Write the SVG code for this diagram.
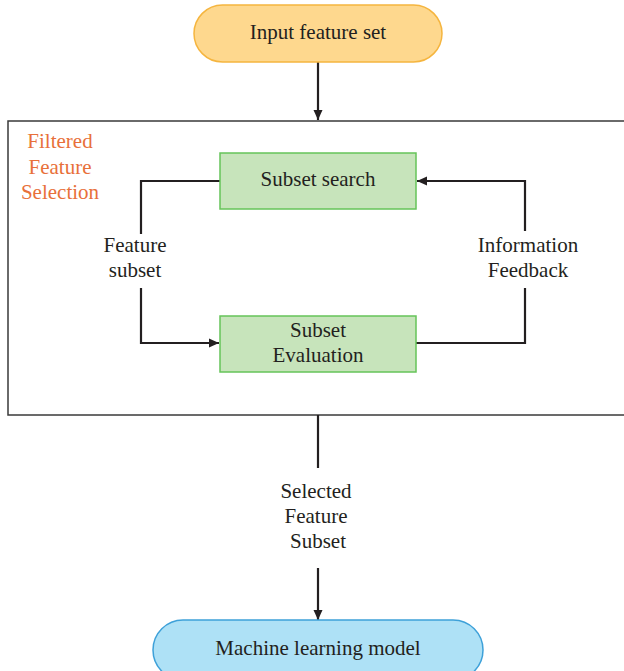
<svg xmlns="http://www.w3.org/2000/svg" width="624" height="671" viewBox="0 0 624 671">
  <style>
    text { font-family: "Liberation Serif", "Times New Roman", serif; font-size: 21px; fill: #231f20; text-anchor: middle; }
    .orange { fill: #e8703a; }
    .pill-in { fill: #fed88e; stroke: #f5b53f; stroke-width: 1.5; }
    .pill-out { fill: #aee1f6; stroke: #3ea1d9; stroke-width: 1.5; }
    .step { fill: #c7e4bb; stroke: #66c459; stroke-width: 1.5; }
    .frame { fill: none; stroke: #3a3a3a; stroke-width: 1.5; }
    .wire { fill: none; stroke: #231f20; stroke-width: 2.2; }
  </style>
  <defs>
    <marker id="arrow" viewBox="0 0 10 10" refX="10" refY="5" markerWidth="10" markerHeight="10" markerUnits="userSpaceOnUse" orient="auto">
      <path d="M0,0.5 L10,5 L0,9.5 Z" fill="#231f20"/>
    </marker>
  </defs>

  <rect width="624" height="671" fill="#ffffff"/>

  <!-- filter stage frame -->
  <g id="filtered-selection">
    <rect class="frame" x="8" y="121" width="620" height="294"/>
    <text class="orange" x="60" y="148">Filtered</text>
    <text class="orange" x="60" y="174">Feature</text>
    <text class="orange" x="60" y="199">Selection</text>
  </g>

  <g id="connectors">
    <path class="wire" d="M318,62 V120" marker-end="url(#arrow)"/>
    <path class="wire" d="M220,181 H141 V234"/>
    <path class="wire" d="M141,288 V343 H219" marker-end="url(#arrow)"/>
    <path class="wire" d="M416,343 H525 V288"/>
    <path class="wire" d="M525,231 V181 H417" marker-end="url(#arrow)"/>
    <path class="wire" d="M318,415 V468"/>
    <path class="wire" d="M318,568 V620" marker-end="url(#arrow)"/>
  </g>

  <g id="labels">
    <text x="135" y="252">Feature</text>
    <text x="135" y="277">subset</text>
    <text x="528" y="252">Information</text>
    <text x="528" y="277">Feedback</text>
    <text x="316" y="498">Selected</text>
    <text x="316" y="523">Feature</text>
    <text x="318" y="548">Subset</text>
  </g>

  <g id="input-feature-set">
    <rect class="pill-in" x="194" y="5" width="248" height="57" rx="28.5"/>
    <text x="318" y="39">Input feature set</text>
  </g>

  <g id="subset-search">
    <rect class="step" x="220" y="153" width="196" height="56"/>
    <text x="318" y="186">Subset search</text>
  </g>

  <g id="subset-evaluation">
    <rect class="step" x="220" y="316" width="196" height="56"/>
    <text x="318" y="337">Subset</text>
    <text x="318" y="362">Evaluation</text>
  </g>

  <g id="machine-learning-model">
    <rect class="pill-out" x="153" y="620" width="330" height="60" rx="30"/>
    <text x="318" y="655">Machine learning model</text>
  </g>
</svg>
